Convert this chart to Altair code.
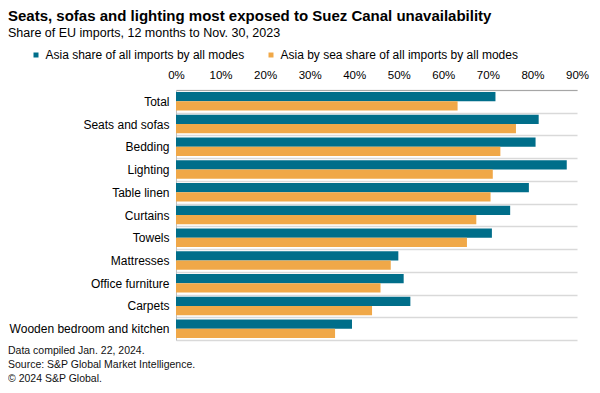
import altair as alt
import pandas as pd

categories = ["Total", "Seats and sofas", "Bedding", "Lighting", "Table linen",
              "Curtains", "Towels", "Mattresses", "Office furniture", "Carpets",
              "Wooden bedroom and kitchen"]
asia_all = [71.7, 81.4, 80.7, 87.7, 79.2, 75.0, 70.9, 49.9, 51.1, 52.6, 39.5]
asia_sea = [63.2, 76.3, 72.8, 71.1, 70.6, 67.4, 65.3, 48.2, 45.9, 44.0, 35.7]
series = ["Asia share of all imports by all modes",
          "Asia by sea share of all imports by all modes"]
colors = ["#006E8A", "#F0A848"]
x_ticks = [0, 10, 20, 30, 40, 50, 60, 70, 80, 90]
footnotes = ["Data compiled Jan. 22, 2024.",
             "Source: S&P Global Market Intelligence.",
             "\u00a9 2024 S&P Global."]

rows = []
for c, a, s in zip(categories, asia_all, asia_sea):
    rows.append({"category": c, "series": series[0], "value": a})
    rows.append({"category": c, "series": series[1], "value": s})
df = pd.DataFrame(rows)

bars = alt.Chart(df).mark_bar().encode(
    x=alt.X("value:Q", scale=alt.Scale(domain=[0, 90], nice=False),
            axis=alt.Axis(orient="top", values=x_ticks, labelExpr="datum.value + '%'",
                          title=None, grid=False, ticks=False, domainColor="#a6a6a6",
                          domainWidth=1.2, labelFontSize=11.5, labelPadding=10,
                          labelFlush=False, labelColor="#000000")),
    y=alt.Y("category:N", sort=categories,
            scale=alt.Scale(paddingInner=0, paddingOuter=0),
            axis=alt.Axis(title=None, ticks=False, grid=True, tickBand="extent",
                          gridColor="#d9d9d9", gridWidth=1.5, domainColor="#bfbfbf",
                          labelFontSize=12, labelPadding=7, labelColor="#000000",
                          labelLimit=0)),
    yOffset=alt.YOffset("series:N", sort=series,
                        scale=alt.Scale(paddingOuter=0.23, paddingInner=0)),
    color=alt.Color("series:N", sort=series,
                    scale=alt.Scale(domain=series, range=colors),
                    legend=alt.Legend(title=None, orient="none", legendX=-146, legendY=-41,
                                      direction="horizontal", symbolType="square",
                                      symbolSize=25, labelFontSize=12, columnPadding=20,
                                      symbolStrokeWidth=0, labelOffset=3.5, labelLimit=0,
                                      labelColor="#000000")),
)

foot = alt.Chart(pd.DataFrame({"t": ["\n".join(footnotes)]})).mark_text(
    align="left", baseline="top", lineBreak="\n", fontSize=10.5, lineHeight=14,
    color="#111111"
).encode(x=alt.value(-168), y=alt.value(256), text="t:N")

chart = alt.layer(bars, foot).properties(
    width=401, height=250,
    autosize=alt.AutoSizeParams(type="none"),
    padding={"left": 168, "top": 82, "right": 15, "bottom": 45},
    title=alt.TitleParams(
        text="Seats, sofas and lighting most exposed to Suez Canal unavailability",
        subtitle="Share of EU imports, 12 months to Nov. 30, 2023",
        anchor="start", frame="group", dx=-168, fontSize=15, fontWeight="bold",
        subtitleFontSize=12.5, color="#000000", subtitleColor="#000000",
        subtitlePadding=2.5, offset=10),
).configure(font="Liberation Sans").configure_view(stroke=None)

chart.save("out.html", embed_options={"renderer": "svg", "actions": False})
